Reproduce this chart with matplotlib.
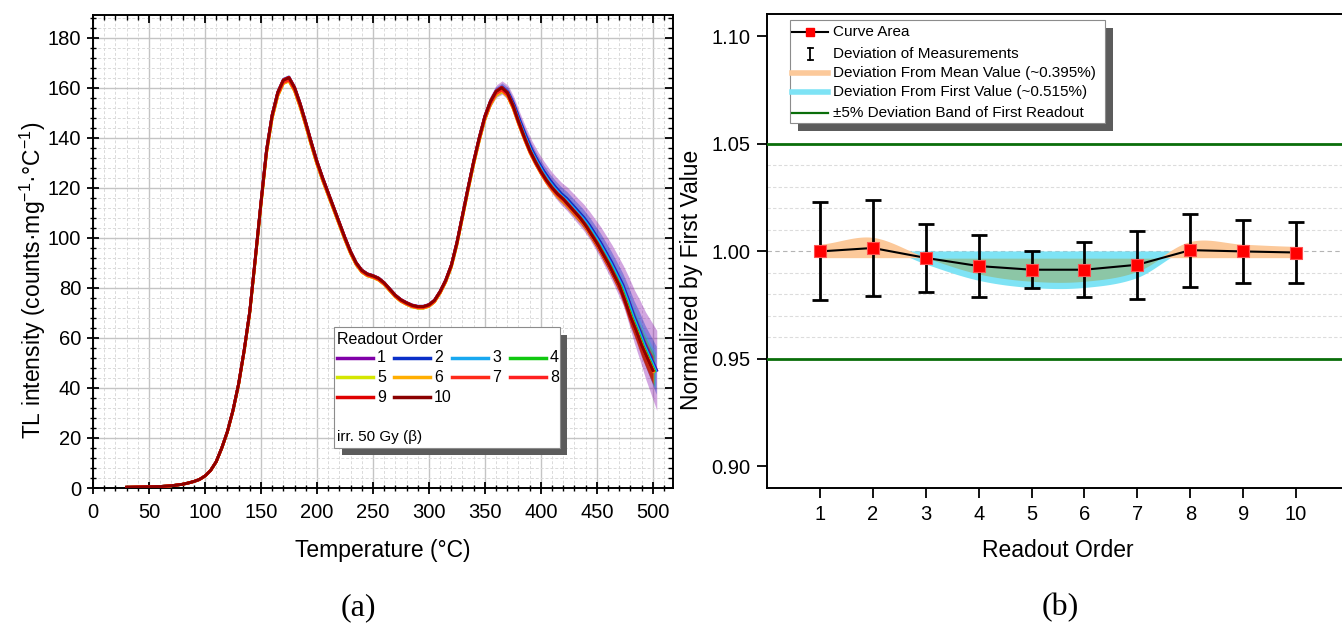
import numpy as np
import matplotlib
matplotlib.use("Agg")
import matplotlib.pyplot as plt
import matplotlib.transforms as mtransforms
from matplotlib.lines import Line2D
from matplotlib.patches import Rectangle
from matplotlib.ticker import MultipleLocator, FixedLocator

plt.rcParams['font.family'] = ['Liberation Sans', 'DejaVu Sans']
plt.rcParams['mathtext.fontset'] = 'custom'
plt.rcParams['mathtext.rm'] = 'Liberation Sans'
plt.rcParams['mathtext.it'] = 'Liberation Sans:italic'
plt.rcParams['axes.linewidth'] = 1.4

# ---------------- data ----------------
# TL glow curve (counts/mg/°C) vs temperature (°C)
temperature = [30, 40, 50, 60, 70, 80, 85, 90, 95, 100, 105, 110, 115, 120, 125,
               130, 135, 140, 145, 150, 155, 160, 165, 170, 175, 180, 185, 190,
               195, 200, 205, 210, 215, 220, 225, 230, 235, 240, 245, 250, 255,
               260, 265, 270, 275, 280, 285, 290, 295, 300, 305, 310, 315, 320,
               325, 330, 335, 340, 345, 350, 355, 360, 365, 370, 375, 380, 385,
               390, 395, 400, 405, 410, 415, 420, 425, 430, 435, 440, 445, 450,
               455, 460, 465, 470, 475, 480, 485, 490, 495, 500]
intensity = [0.3, 0.4, 0.5, 0.6, 0.9, 1.5, 2.0, 2.6, 3.4, 4.8, 7.0, 10.5, 16, 22.5, 31,
             41.5, 55, 70.5, 92, 114, 135, 149, 158, 163, 164, 160, 153.5, 146,
             138, 130.5, 124, 118, 112, 106, 100, 94.5, 90, 87, 85.5, 84.8, 83.8,
             82, 79.5, 77, 75.2, 74, 73, 72.5, 72.5, 73.2, 75, 78.5, 83, 89,
             98, 109, 120, 130.5, 140, 148.5, 154.5, 158.5, 160, 158, 153, 146.5, 140.5,
             135, 130.5, 126.5, 123, 120, 117.5, 115.5, 113, 110.5, 108, 105, 101.5, 98,
             94, 90, 85.5, 81, 75, 68.5, 63, 57, 52, 47]

readout_labels = ['1', '2', '3', '4', '5', '6', '7', '8', '9', '10']
readout_colors = ['#8000a8', '#0a2fc8', '#18a8f0', '#10c810', '#d4e600',
                  '#ffae00', '#ff2a1a', '#ff2020', '#e00000', '#8b0000']

# curve area of each readout normalized by the first readout, with its deviation
readout_order = [1, 2, 3, 4, 5, 6, 7, 8, 9, 10]
norm_area = [1.0000, 1.0016, 0.9970, 0.9932, 0.9915, 0.9915, 0.9938, 1.0006, 1.0000, 0.9995]
area_err = [0.0228, 0.0222, 0.0157, 0.0145, 0.0086, 0.0128, 0.0158, 0.0170, 0.0148, 0.0140]

# thermal lag of each readout on the high-temperature side (°C)
tail_shift = [3.5, 3.0, 2.5, 1.5, 0.8, 0.5, 0.3, 0.2, 0.0, 0.0]
# half-width of the measurement envelope of the first readout
spread_T = [30, 320, 360, 400, 440, 470, 500]
spread_hw = [0.3, 1.0, 2.5, 4.0, 5.5, 8.0, 16.0]
spread_scale = [1.0, 0.6, 0.45, 0.4, 0.3, 0.3, 0.35, 0.35, 0.3, 0.35]

W, H = 1342, 626
fig = plt.figure(figsize=(W / 100, H / 100), dpi=100)
pix = mtransforms.Affine2D().scale(1 / W, -1 / H).translate(0, 1) + fig.transFigure

# ---------------- (a) glow curves ----------------
ax = fig.add_axes([93 / W, 1 - 488 / H, (673 - 93) / W, (488 - 15) / H])
T = np.array(temperature, float)
I = np.array(intensity, float)
ramp = np.clip((T - 360) / 50, 0, 1)
for k in range(10):
    Tk = T + tail_shift[k] * ramp
    Ik = I * norm_area[k]
    hw = np.interp(T, spread_T, spread_hw) * spread_scale[k]
    ax.fill_between(Tk, Ik - hw, Ik + hw, color=readout_colors[k], alpha=0.35, lw=0, zorder=2)
for k in range(10):
    Tk = T + tail_shift[k] * ramp
    ax.plot(Tk, I * norm_area[k], color=readout_colors[k], lw=2.0, zorder=3)

ax.set_xlim(0, 518)
ax.set_ylim(0, 189)
ax.xaxis.set_major_locator(MultipleLocator(50))
ax.xaxis.set_minor_locator(MultipleLocator(10))
ax.yaxis.set_major_locator(MultipleLocator(20))
ax.yaxis.set_minor_locator(MultipleLocator(4))
ax.grid(which='major', color='#c4c4c4', lw=1.0, zorder=0)
ax.grid(which='minor', color='#dadada', lw=0.7, ls=(0, (3, 2)), zorder=0)
ax.set_axisbelow(True)
ax.tick_params(which='major', direction='inout', length=9, width=1.3, labelsize=14.5, pad=4)
ax.tick_params(which='minor', direction='inout', length=5, width=1.0)
ax.tick_params(axis='x', pad=6)
ax.set_xlabel('Temperature (°C)', fontsize=16.5)
ax.set_ylabel('TL intensity (counts·mg$^{-1}$·°C$^{-1}$)', fontsize=16.5)
ax.xaxis.set_label_coords(0.5, -0.108)
ax.yaxis.set_label_coords(-0.078, 0.44)

# inward ticks on the top and right edges
axt = fig.add_axes(ax.get_position(), frameon=False)
axt.set_xlim(ax.get_xlim())
axt.set_ylim(ax.get_ylim())
axt.xaxis.set_major_locator(MultipleLocator(50))
axt.xaxis.set_minor_locator(MultipleLocator(10))
axt.yaxis.set_major_locator(MultipleLocator(20))
axt.yaxis.set_minor_locator(MultipleLocator(4))
axt.tick_params(which='both', direction='in', bottom=False, left=False, top=True, right=True,
                labelbottom=False, labelleft=False)
axt.tick_params(which='major', length=6, width=1.3)
axt.tick_params(which='minor', length=3.5, width=1.0)
axt.patch.set_visible(False)

# legend of panel (a)
fig.add_artist(Rectangle((342, 335), 225, 120, transform=pix, fc='#5c5c5c', ec='none', zorder=5))
fig.add_artist(Rectangle((334, 327), 226, 121, transform=pix, fc='white', ec='#8c8c8c', lw=0.8, zorder=6))
fig.text(337, 339, 'Readout Order', transform=pix, fontsize=11.5, va='center', ha='left', zorder=7)
col_x = [337, 394, 452, 510]
row_y = [358, 377, 397]
for k in range(10):
    r, c = divmod(k, 4)
    x0, y0 = col_x[c], row_y[r]
    fig.add_artist(Line2D([x0, x0 + 36], [y0, y0], transform=pix, color=readout_colors[k], lw=2.5, zorder=7))
    fig.text(x0 + 40, y0, readout_labels[k], transform=pix, fontsize=11.5, va='center', ha='left', zorder=7)
fig.text(337, 437, 'irr. 50 Gy (β)', transform=pix, fontsize=11, va='center', ha='left', zorder=7)

# ---------------- (b) normalized curve area ----------------
bx = fig.add_axes([767 / W, 1 - 488 / H, (1349 - 767) / W, (488 - 14) / H])
xo = np.array(readout_order, float)
c = np.array(norm_area, float)
mean_val = c.mean()


def catmull_rom(x, y, n=24):
    """Smooth path through the given points for the deviation bands."""
    xs, ys = [], []
    m = len(x)
    for i in range(m - 1):
        p0 = y[i - 1] if i > 0 else y[i]
        p1, p2 = y[i], y[i + 1]
        p3 = y[i + 2] if i + 2 < m else y[i + 1]
        t = np.linspace(0, 1, n, endpoint=False)
        ys.append(0.5 * (2 * p1 + (-p0 + p2) * t + (2 * p0 - 5 * p1 + 4 * p2 - p3) * t ** 2
                         + (-p0 + 3 * p1 - 3 * p2 + p3) * t ** 3))
        xs.append(x[i] + (x[i + 1] - x[i]) * t)
    xs.append([x[-1]])
    ys.append([y[-1]])
    return np.concatenate(xs), np.concatenate(ys)


xs, cs = catmull_rom(xo, c)
first = c[0]
bx.fill_between(xs, first, 2 * cs - first, where=cs <= first, interpolate=True,
                color='#7ee3f5', lw=0, zorder=2)
bx.fill_between(xs, mean_val, 2 * cs - mean_val, where=cs >= mean_val, interpolate=True,
                color='#fcc99a', lw=0, zorder=3)
bx.fill_between(xs, mean_val, 2 * cs - mean_val, where=cs <= mean_val, interpolate=True,
                color='#8cc6a6', lw=0, zorder=3)

bx.axhline(1.05, color='#0a6e0a', lw=2.0, zorder=4)
bx.axhline(0.95, color='#0a6e0a', lw=2.0, zorder=4)
bx.axhline(1.00, color='#b4b4b4', lw=0.8, ls=(0, (4, 3)), zorder=1)

bx.errorbar(xo, c, yerr=area_err, fmt='none', ecolor='black', elinewidth=2.0,
            capsize=6, capthick=2.0, zorder=5)
bx.plot(xo, c, color='black', lw=1.5, zorder=6)
bx.plot(xo, c, ls='none', marker='s', ms=9, mfc='#ff0000', mec='#ff5050', mew=0.8, zorder=7)

bx.set_xlim(0, 11)
bx.set_ylim(0.89, 1.1104)
bx.xaxis.set_major_locator(FixedLocator(readout_order))
bx.set_xticklabels(readout_labels)
bx.yaxis.set_major_locator(FixedLocator([0.90, 0.95, 1.00, 1.05, 1.10]))
bx.yaxis.set_major_formatter(matplotlib.ticker.FormatStrFormatter('%.2f'))
bx.yaxis.set_minor_locator(FixedLocator([0.96, 0.97, 0.98, 0.99, 1.01, 1.02, 1.03, 1.04]))
bx.grid(which='minor', axis='y', color='#dcdcdc', lw=0.8, ls=(0, (3, 2)))
bx.tick_params(which='minor', length=0)
bx.tick_params(which='major', direction='out', length=7, width=1.3, labelsize=14.5, pad=5)
bx.set_xlabel('Readout Order', fontsize=16.5)
bx.set_ylabel('Normalized by First Value', fontsize=16.5)
bx.xaxis.set_label_coords(0.5, -0.108)
bx.yaxis.set_label_coords(-0.11, 0.44)
for s in bx.spines.values():
    s.set_linewidth(1.4)

# legend of panel (b)
fig.add_artist(Rectangle((798, 28), 315, 103, transform=pix, fc='#5c5c5c', ec='none', zorder=5))
fig.add_artist(Rectangle((790, 20), 315, 103, transform=pix, fc='white', ec='#8c8c8c', lw=0.8, zorder=6))
hx0, hx1, tx = 792, 828, 833
ly = [32, 54, 73, 92, 113]
fig.add_artist(Line2D([hx0, hx1], [ly[0], ly[0]], transform=pix, color='black', lw=1.5, zorder=7))
fig.add_artist(Line2D([810], [ly[0]], transform=pix, ls='none', marker='s', ms=6,
                      mfc='#ff0000', mec='#ff0000', zorder=8))
fig.add_artist(Line2D([810, 810], [ly[1] - 6, ly[1] + 6], transform=pix, color='black', lw=1.3, zorder=7))
for yy in (ly[1] - 6, ly[1] + 6):
    fig.add_artist(Line2D([807.5, 812.5], [yy, yy], transform=pix, color='black', lw=1.3, zorder=7))
fig.add_artist(Line2D([hx0, hx1], [ly[2], ly[2]], transform=pix, color='#fcc99a', lw=4, zorder=7))
fig.add_artist(Line2D([hx0, hx1], [ly[3], ly[3]], transform=pix, color='#7ee3f5', lw=4, zorder=7))
fig.add_artist(Line2D([hx0, hx1], [ly[4], ly[4]], transform=pix, color='#0a6e0a', lw=1.6, zorder=7))
legend_texts = ['Curve Area', 'Deviation of Measurements',
                'Deviation From Mean Value (~0.395%)',
                'Deviation From First Value (~0.515%)',
                '±5% Deviation Band of First Readout']
for yy, t in zip(ly, legend_texts):
    fig.text(tx, yy, t, transform=pix, fontsize=11, va='center', ha='left', zorder=8)

# panel captions
fig.text(358, 608, '(a)', transform=pix, fontsize=23, va='center', ha='center',
         family=['Liberation Serif', 'DejaVu Serif'])
fig.text(1060, 608, '(b)', transform=pix, fontsize=23, va='center', ha='center',
         family=['Liberation Serif', 'DejaVu Serif'])

fig.savefig('out.png', dpi=100)
